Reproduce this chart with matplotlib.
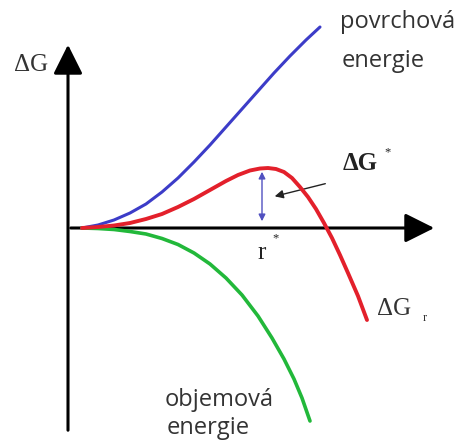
"""Nucleation free energy sketch: surface, volume and total energy vs. radius."""

import matplotlib
matplotlib.use("Agg")
import matplotlib.pyplot as plt
from matplotlib.patches import FancyArrowPatch

# curves (x = radius, y = energy, arbitrary units)
surface_r = [14, 30, 46, 62, 78, 94, 110, 126, 142, 158, 174, 190, 206, 222, 238, 252]
surface_g = [0, 3, 8, 15, 24, 36, 50, 66, 83, 101, 119, 137, 155, 172, 188, 201]

total_r = [14, 30, 46, 62, 78, 94, 110, 126, 142, 158, 170, 182, 192, 200, 208, 216, 224, 232,
           240, 248, 256, 264, 272, 280, 290, 299]
total_g = [0, 1, 2.5, 5, 9, 14, 21, 29, 38, 47, 53, 57.5, 59.5, 60, 59, 56, 50, 41,
           31, 19, 5, -10, -27, -45, -68, -92]

volume_r = [14, 30, 46, 62, 78, 94, 110, 126, 142, 158, 174, 190, 204, 216, 226, 234, 242]
volume_g = [0, -0.5, -1.5, -3.5, -6, -10.5, -16.5, -25, -36, -50, -67, -88, -110, -131, -151, -170, -193]

r_crit = 194
dg_crit = 58

BLUE = "#3c3cc8"
RED = "#e3202b"
GREEN = "#22b83a"
TEXT = "#333333"
SERIF = "Liberation Serif"
SANS = "Open Sans"

fig = plt.figure(figsize=(4.6, 4.41), dpi=100)
ax = fig.add_axes([0, 0, 1, 1])
ax.set_xlim(-68, 392)
ax.set_ylim(-213, 228)
ax.axis("off")

# axes with arrow heads
for start, end in [((0, -205), (0, 186)), ((0, 0), (369, 0))]:
    ax.add_patch(FancyArrowPatch(start, end, arrowstyle="-|>,head_length=0.9,head_width=0.45",
                                 mutation_scale=20, lw=2.2, color="black", zorder=1))

line_kw = dict(solid_capstyle="round", solid_joinstyle="round")
ax.plot(surface_r, surface_g, color=BLUE, lw=2.2, zorder=3, **line_kw)
ax.plot(volume_r, volume_g, color=GREEN, lw=2.6, zorder=3, **line_kw)
ax.plot(total_r, total_g, color=RED, lw=2.8, zorder=4, **line_kw)

# barrier height marker
ax.add_patch(FancyArrowPatch((r_crit, 4), (r_crit, dg_crit + 1), arrowstyle="<|-|>,head_length=0.4,head_width=0.2",
                             mutation_scale=10, lw=1.0, color="#5050c0", zorder=2))
ax.add_patch(FancyArrowPatch((260, 45), (204, 31), arrowstyle="-|>,head_length=0.5,head_width=0.25",
                             mutation_scale=10, lw=1.0, color="#222222", zorder=2))

# labels
ax.text(-37, 163, "ΔG", family=SERIF, fontsize=18, color=TEXT, ha="center", va="center")
ax.text(272, 200, "povrchová", family=SANS, fontsize=17, color=TEXT, ha="left", va="baseline")
ax.text(274, 161, "energie", family=SANS, fontsize=17, color=TEXT, ha="left", va="baseline")
ax.text(97, -178, "objemová", family=SANS, fontsize=17, color=TEXT, ha="left", va="baseline")
ax.text(99, -206, "energie", family=SANS, fontsize=17, color=TEXT, ha="left", va="baseline")

ax.text(275, 64, "ΔG", family=SERIF, fontsize=18, weight="bold", color="#222222", ha="left", va="center")
ax.text(320, 76, "*", family=SERIF, fontsize=9, color="#222222", ha="center", va="center")
ax.text(r_crit, -25, "r", family=SERIF, fontsize=18, color="#222222", ha="center", va="center")
ax.text(208, -10, "*", family=SERIF, fontsize=9, color="#222222", ha="center", va="center")
ax.text(309, -81, "ΔG", family=SERIF, fontsize=18, color=TEXT, ha="left", va="center")
ax.text(357, -90, "r", family=SERIF, fontsize=9, color=TEXT, ha="center", va="center")

fig.savefig("out.png", dpi=100)
